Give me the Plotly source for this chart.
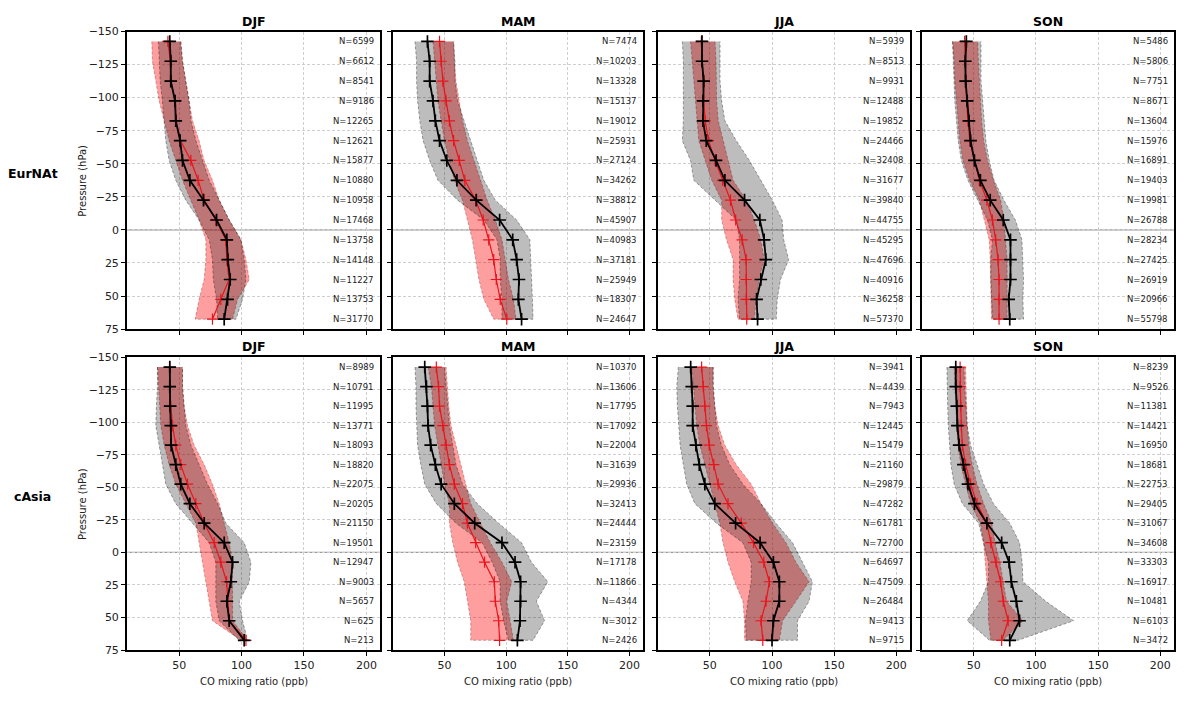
import plotly.graph_objects as go

# ---------------- data ----------------
pressure_levels = [-142.5, -127.5, -112.5, -97.5, -82.5, -67.5, -52.5, -37.5,
                   -22.5, -7.5, 7.5, 22.5, 37.5, 52.5, 67.5]
seasons = ["DJF", "MAM", "JJA", "SON"]
regions = ["EurNAt", "cAsia"]
x_ticks = [50, 100, 150, 200]
y_ticks = [-150, -125, -100, -75, -50, -25, 0, 25, 50, 75]

# EurNAt DJF
eur_djf_black = [42.5, 43.3, 43.3, 46.8, 47.3, 50.8, 52.7, 58.6, 69.5, 80, 88.2, 89, 90.9, 88.8, 86.1]
eur_djf_black_lo = [33.4, 34, 34.8, 36.6, 38, 39.3, 42, 47.3, 55.3, 66, 74.1, 76.7, 77.4, 80, 80.8]
eur_djf_black_hi = [51.3, 52.7, 55.3, 58, 59.4, 63.4, 68.7, 74.1, 82.1, 90.1, 99.5, 102.1, 103.5, 100.8, 95.5]
eur_djf_red = [41, 43, 43.5, 46.5, 47.5, 51, 59.4, 65.2, 70, 79.4, 87.4, 88.2, 90, 83.4, 76.7]
eur_djf_red_lo = [28.1, 28.6, 31.3, 34, 38, 42, 47.3, 52.7, 59.4, 66, 71.4, 71.4, 70, 66, 62.8]
eur_djf_red_hi = [51.3, 52.7, 55.3, 58, 60.7, 66, 70, 76.7, 82.1, 90.1, 99.5, 103.5, 106.2, 96.8, 92.8]
eur_djf_n = [6599, 6612, 8541, 9186, 12265, 12621, 15877, 10880, 10958, 17468, 13758, 14148, 11227, 13753, 31770]

# EurNAt MAM
eur_mam_black = [36.2, 38, 38, 40.7, 42.6, 46, 51.9, 60.1, 75.8, 94.7, 105.3, 108.5, 110.4, 109.9, 112.5]
eur_mam_black_lo = [26.1, 27.4, 27.4, 28.2, 30, 32.7, 38, 44.7, 60.6, 81.9, 92.6, 95.2, 95.2, 96.6, 96.6]
eur_mam_black_hi = [57.4, 58.5, 58.5, 60.6, 66, 71.3, 76.6, 81.9, 91.2, 108.5, 119.2, 120, 120.5, 121.3, 121.8]
eur_mam_red = [46, 47.3, 48.7, 51.3, 54, 57.4, 62, 66.5, 75.3, 81.4, 85.9, 89.9, 92, 95.2, 100.5]
eur_mam_red_lo = [40.7, 42, 43.4, 44.7, 47.3, 50, 54, 58, 64.6, 68.6, 72.6, 75.3, 77.9, 81.9, 89.9]
eur_mam_red_hi = [57.4, 58, 59.3, 62, 64.6, 68.6, 73.9, 79.3, 84.6, 91.2, 96.6, 99.2, 101.9, 105.9, 108]
eur_mam_n = [7474, 10203, 13328, 15137, 19012, 25931, 27124, 34262, 38812, 45907, 40983, 37181, 25949, 18307, 24647]

# EurNAt JJA
eur_jja_black = [43.7, 43.7, 45, 44.5, 44.5, 47.1, 55, 62.1, 77.9, 90.2, 93.7, 95, 91, 87.6, 88.4]
eur_jja_black_lo = [27.9, 28.7, 28.7, 28.7, 28.7, 27.9, 34.5, 37.1, 54.2, 71.3, 73.9, 73.9, 73.9, 72.6, 73.9]
eur_jja_black_hi = [58.2, 58.2, 58.2, 59.5, 62.1, 71.3, 81.8, 91, 100.2, 108.1, 109.4, 113.4, 106.8, 104.2, 103.4]
eur_jja_red = [43.2, 43.7, 45, 45, 46.3, 48.9, 54.2, 60.3, 66.6, 70.8, 76, 79.2, 79.2, 79.2, 79.7]
eur_jja_red_lo = [34.5, 35.8, 37.1, 38.4, 39.2, 41.1, 46.3, 51.6, 59.5, 59.5, 63.4, 68.7, 68.7, 70, 72.6]
eur_jja_red_hi = [54.2, 55, 55.5, 55.5, 56.8, 60.8, 64.7, 68.7, 79.2, 85.8, 91, 93.7, 89.7, 87.1, 85.8]
eur_jja_n = [5939, 8513, 9931, 12488, 19852, 24466, 32408, 31677, 39840, 44755, 45295, 47696, 40916, 36258, 57370]

# EurNAt SON
eur_son_black = [44, 43.2, 43.4, 44.7, 46.1, 47.4, 50.5, 55.3, 63.2, 73.7, 79.5, 79.5, 79.5, 78.1, 78.9]
eur_son_black_lo = [32.9, 33.4, 34.2, 34.7, 36.1, 37.4, 40, 45.3, 53.2, 61, 65, 63.7, 63.7, 64.2, 65]
eur_son_black_hi = [55.8, 55.8, 55.8, 57.1, 58.4, 59.7, 62.4, 66.3, 74.2, 83.4, 88.7, 89.5, 90, 89.5, 90]
eur_son_red = [42.6, 43.2, 43.4, 44.2, 45.3, 46.8, 50.5, 54.5, 60.5, 65, 67.6, 69.5, 70.3, 70.3, 70.3]
eur_son_red_lo = [32.9, 34.2, 34.7, 36.1, 37.4, 38.7, 41.3, 46.6, 54.5, 58.4, 62.4, 63.2, 63.7, 64.2, 64.2]
eur_son_red_hi = [53.2, 53.7, 54.5, 55.3, 56.3, 57.9, 61, 65.8, 71.6, 74.2, 75.5, 76.8, 76.8, 76.8, 76.8]
eur_son_n = [5486, 5806, 7751, 8671, 13604, 15976, 16891, 19403, 19981, 26788, 28234, 27425, 26919, 20966, 55798]

# cAsia DJF
cas_djf_black = [42.5, 42.5, 42.8, 43.3, 43.6, 47.3, 51.3, 58.6, 70.1, 86.1, 92.8, 91.4, 88.2, 90.1, 102.1]
cas_djf_black_lo = [32.6, 32.6, 31.8, 31.3, 34, 36.6, 39.3, 47.3, 60.7, 74.1, 79.4, 79.4, 79.4, 82.1, 98.1]
cas_djf_black_hi = [52.7, 52.7, 54, 55.3, 59.4, 66, 72.7, 80.8, 87.4, 102.1, 107.5, 106.2, 98.1, 100.8, 104.8]
cas_djf_red = [42.5, 42.5, 43.3, 44.7, 47.3, 51.3, 56.7, 63.4, 70.1, 78.1, 83.4, 88, 88.8, 90.1, 103.5]
cas_djf_red_lo = [32.6, 33.4, 34, 35.3, 38, 42, 47.3, 55.3, 63.4, 66, 68.7, 71.4, 74.1, 76.7, 99.5]
cas_djf_red_hi = [52.7, 52.7, 54, 56.7, 62, 70.1, 76.7, 82.1, 86.1, 90.1, 92.8, 92.8, 92.8, 92.8, 104.8]
cas_djf_n = [8989, 10791, 11995, 13771, 18093, 18820, 22075, 20205, 21150, 19501, 12947, 9003, 5657, 625, 213]

# cAsia MAM
cas_mam_black = [34, 35.4, 36.2, 36.7, 38.8, 42.6, 47.3, 58, 74.5, 96.6, 107.2, 111.7, 111.7, 111.2, 109.1]
cas_mam_black_lo = [26.1, 26.9, 26.9, 27.4, 28.2, 30.8, 34, 43.4, 59.3, 80.6, 88.6, 95.2, 95.2, 97.9, 101.9]
cas_mam_black_hi = [50, 51.3, 52.7, 54, 56.7, 59.3, 64.6, 76.6, 93.9, 112.5, 120.5, 133.8, 124.5, 131.1, 121.8]
cas_mam_red = [43.4, 45.2, 46, 48.7, 51.3, 54, 58, 64.6, 68.6, 75.3, 82.5, 90.4, 91.2, 93.9, 94.7]
cas_mam_red_lo = [36.7, 39.4, 40.7, 42, 44.7, 47.3, 50, 54, 54, 56.7, 60.6, 66, 68.6, 71.3, 71.3]
cas_mam_red_hi = [51.3, 52.7, 53.5, 55.3, 59.3, 63.3, 67.3, 71.3, 79.3, 87.2, 96.6, 104.5, 100.5, 103.2, 105.9]
cas_mam_n = [10370, 13606, 17795, 17092, 22004, 31639, 29936, 32413, 24444, 23159, 17178, 11866, 4344, 3012, 2426]

# cAsia JJA
cas_jja_black = [34.6, 35.4, 36.2, 36.2, 38.8, 41.5, 46, 54, 70.7, 90.4, 101.1, 105.9, 105.9, 101.1, 100]
cas_jja_black_lo = [24.7, 23.4, 23.9, 24.7, 26.1, 28.7, 31.4, 38, 55.3, 76.6, 83.3, 83.3, 80.6, 78.7, 79.3]
cas_jja_black_hi = [52.7, 52.7, 54, 55.3, 59.3, 66, 76.6, 91.2, 103.2, 116.5, 124.5, 132.5, 129.8, 120.5, 120.5]
cas_jja_red = [43.4, 44.7, 46, 47.3, 49.5, 53.2, 56.7, 64.6, 75.3, 85.1, 93.4, 97.9, 95.2, 91.2, 92.6]
cas_jja_red_lo = [35.4, 36.7, 38, 39.4, 42, 46, 50, 54, 58, 60.6, 64.6, 70, 76.6, 77.9, 77.9]
cas_jja_red_hi = [52.7, 52.7, 54, 56.7, 62, 71.3, 83.3, 91.2, 100.5, 111.2, 119.2, 129.8, 119.2, 108.5, 105.9]
cas_jja_n = [3941, 4439, 7943, 12445, 15479, 21160, 29879, 47282, 61781, 72700, 64697, 47509, 26484, 9413, 9715]

# cAsia SON
cas_son_black = [35.5, 35.5, 36.3, 36.8, 38.2, 41.6, 45.3, 50.5, 60.5, 72.4, 78.4, 80.2, 84.2, 86.8, 78.9]
cas_son_black_lo = [28.4, 29, 29, 29.5, 30.3, 31.6, 34.2, 40.8, 53.9, 57.9, 61.8, 61.8, 55.3, 44.7, 62.6]
cas_son_black_hi = [42.1, 42.6, 43.4, 44.7, 47.4, 52.6, 57.9, 65.8, 78.9, 86.8, 88.9, 89.5, 107.9, 130.2, 85.5]
cas_son_red = [39, 39, 39.5, 40, 40.8, 43.4, 47.4, 52.6, 60.5, 63.7, 67.9, 71.6, 73.7, 77.6, 72.4]
cas_son_red_lo = [34.2, 34.7, 35.5, 36.3, 37.4, 39.5, 43.4, 47.4, 55.3, 57.9, 59.2, 60.5, 61.8, 61.8, 63.7]
cas_son_red_hi = [43.4, 43.4, 44.2, 44.7, 46.1, 48.7, 52.6, 57.9, 64.5, 67.1, 71, 73.7, 76.3, 89.5, 73.7]
cas_son_n = [8239, 9526, 11381, 14421, 16950, 18681, 22753, 29405, 31067, 34608, 33303, 16917, 10481, 6103, 3472]

panels = [
    [(eur_djf_black, eur_djf_black_lo, eur_djf_black_hi, eur_djf_red, eur_djf_red_lo, eur_djf_red_hi, eur_djf_n),
     (eur_mam_black, eur_mam_black_lo, eur_mam_black_hi, eur_mam_red, eur_mam_red_lo, eur_mam_red_hi, eur_mam_n),
     (eur_jja_black, eur_jja_black_lo, eur_jja_black_hi, eur_jja_red, eur_jja_red_lo, eur_jja_red_hi, eur_jja_n),
     (eur_son_black, eur_son_black_lo, eur_son_black_hi, eur_son_red, eur_son_red_lo, eur_son_red_hi, eur_son_n)],
    [(cas_djf_black, cas_djf_black_lo, cas_djf_black_hi, cas_djf_red, cas_djf_red_lo, cas_djf_red_hi, cas_djf_n),
     (cas_mam_black, cas_mam_black_lo, cas_mam_black_hi, cas_mam_red, cas_mam_red_lo, cas_mam_red_hi, cas_mam_n),
     (cas_jja_black, cas_jja_black_lo, cas_jja_black_hi, cas_jja_red, cas_jja_red_lo, cas_jja_red_hi, cas_jja_n),
     (cas_son_black, cas_son_black_lo, cas_son_black_hi, cas_son_red, cas_son_red_lo, cas_son_red_hi, cas_son_n)],
]

# ---------------- layout geometry ----------------
# The page body has an 8px margin; the figure is sized so the page never
# overflows the 1184x702 window, and window positions are mapped into it.
W, H = 1168, 686


def fx(px):
    return (px - 7) * W / 1175.0


def fy(py):
    return (py - 8.0) * H / 692.0


col_px = [(fx(a), fx(b)) for a, b in [(127, 382), (395, 647), (662, 916), (928, 1182)]]
row_px = [(fy(a), fy(b)) for a, b in [(26, 332), (361, 662)]]
x_range = [8.3, 211]
y_range = [75, -150]
FONT = "DejaVu Sans"

fig = go.Figure()
annotations = []
shapes = []
layout_axes = {}


def ylab(v):
    return ("\u2212" + str(-v)) if v < 0 else str(v)


for r in range(2):
    for c in range(4):
        k = r * 4 + c + 1
        xa = "x" if k == 1 else f"x{k}"
        ya = "y" if k == 1 else f"y{k}"
        black, black_lo, black_hi, red, red_lo, red_hi, nvals = panels[r][c]
        band_y = pressure_levels + pressure_levels[::-1]

        # red band
        fig.add_trace(go.Scatter(
            x=red_lo + red_hi[::-1], y=band_y, xaxis=xa, yaxis=ya,
            mode="lines", fill="toself", fillcolor="rgba(255,0,0,0.38)",
            line=dict(color="rgba(80,0,0,0.6)", width=0.5, dash="3px,2px"),
            hoverinfo="skip", showlegend=False))
        # grey band
        fig.add_trace(go.Scatter(
            x=black_lo + black_hi[::-1], y=band_y, xaxis=xa, yaxis=ya,
            mode="lines", fill="toself", fillcolor="rgba(0,0,0,0.26)",
            line=dict(color="rgba(0,0,0,0.7)", width=0.5, dash="3px,2px"),
            hoverinfo="skip", showlegend=False))
        # red profile
        fig.add_trace(go.Scatter(
            x=red, y=pressure_levels, xaxis=xa, yaxis=ya,
            mode="lines+markers", line=dict(color="#e8141c", width=1.2),
            marker=dict(symbol="cross-thin", size=8,
                        line=dict(color="#e8141c", width=1.2)),
            showlegend=False))
        # black profile
        fig.add_trace(go.Scatter(
            x=black, y=pressure_levels, xaxis=xa, yaxis=ya,
            mode="lines+markers", line=dict(color="black", width=1.8),
            marker=dict(symbol="cross-thin", size=9,
                        line=dict(color="black", width=1.7)),
            showlegend=False))

        x0, x1 = col_px[c]
        y0, y1 = row_px[r]
        common = dict(showline=True, linewidth=2, linecolor="black", mirror=True,
                      ticks="outside", ticklen=4, tickwidth=1.2, tickcolor="black",
                      showgrid=True, gridcolor="#cfcfcf", griddash="3px,2px", gridwidth=0.8,
                      zeroline=False, fixedrange=True,
                      tickfont=dict(family=FONT, size=11, color="#222"))
        layout_axes["xaxis" if k == 1 else f"xaxis{k}"] = dict(
            domain=[x0 / W, min(x1 / W, 1.0)], range=x_range, tickvals=x_ticks,
            showticklabels=(r == 1), anchor=ya, **common)
        layout_axes["yaxis" if k == 1 else f"yaxis{k}"] = dict(
            domain=[max(1 - y1 / H, 0.0), 1 - y0 / H], range=y_range, tickvals=y_ticks,
            ticktext=[ylab(v) for v in y_ticks], showticklabels=(c == 0),
            anchor=xa, **common)

        # zero line
        shapes.append(dict(type="line", xref=f"{xa} domain", yref=ya,
                           x0=0, x1=1, y0=0, y1=0, layer="below",
                           line=dict(color="#9a9a9a", width=1.2)))

        # N labels
        for lev, nv in zip(pressure_levels, nvals):
            annotations.append(dict(
                x=0.985, y=lev, xref=f"{xa} domain", yref=ya,
                text=f"N={nv}", showarrow=False, xanchor="right", yanchor="middle",
                font=dict(family=FONT, size=8.5, color="#222")))

        # season title
        annotations.append(dict(
            x=(x0 + x1) / 2 / W, y=1 - y0 / H, xref="paper", yref="paper",
            text=f"<b>{seasons[c]}</b>", showarrow=False, xanchor="center",
            yanchor="bottom", yshift=1,
            font=dict(family=FONT, size=12.5, color="black")))

        if r == 1:
            annotations.append(dict(
                x=(x0 + x1) / 2 / W, y=1 - 680.0 / H, xref="paper", yref="paper",
                text="CO mixing ratio (ppb)", showarrow=False, xanchor="center",
                yanchor="middle", font=dict(family=FONT, size=10, color="#222")))
        if c == 0:
            annotations.append(dict(
                x=fx(82) / W, y=1 - (y0 + y1) / 2 / H, xref="paper", yref="paper",
                text="Pressure (hPa)", textangle=-90, showarrow=False,
                xanchor="center", yanchor="middle",
                font=dict(family=FONT, size=10, color="#222")))
            annotations.append(dict(
                x=fx(32) / W, y=1 - ((y0 + y1) / 2 - 7) / H, xref="paper", yref="paper",
                text=f"<b>{regions[r]}</b>", showarrow=False,
                xanchor="center", yanchor="middle",
                font=dict(family=FONT, size=12.5, color="black")))

fig.update_layout(
    width=W, height=H,
    margin=dict(l=0, r=0, t=0, b=0),
    paper_bgcolor="white", plot_bgcolor="white",
    showlegend=False,
    annotations=annotations, shapes=shapes,
    **layout_axes)

fig.write_html("out.html")
